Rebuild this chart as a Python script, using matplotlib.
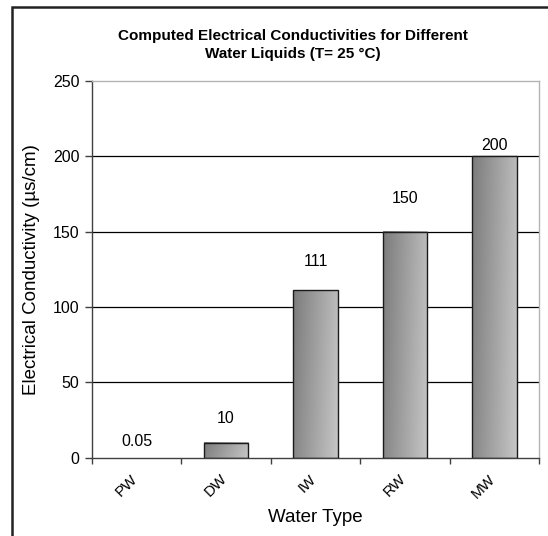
import numpy as np
import matplotlib
matplotlib.use("Agg")
import matplotlib.pyplot as plt
from matplotlib.colors import LinearSegmentedColormap
from matplotlib.patches import Rectangle
from matplotlib.transforms import ScaledTranslation

plt.rcParams['font.family'] = ['Liberation Sans', 'DejaVu Sans']

# Data
water_types = ['PW', 'DW', 'IW', 'RW', 'MW']
conductivity = [0.05, 10, 111, 150, 200]
value_labels = ['0.05', '10', '111', '150', '200']
label_y = [10.5, 26, 130, 172, 207]  # where the value labels sit

W, H = 548, 536
fig = plt.figure(figsize=(W / 100, H / 100), dpi=100)

# outer chart frame (runs off the right/bottom edge)
fig.patches.append(Rectangle((12 / W, -0.05), 1.2, 1 - 7 / H + 0.05,
                             transform=fig.transFigure, fill=False,
                             edgecolor='#222222', linewidth=1.8))

ax = fig.add_axes([92 / W, (H - 457.7) / H, (539 - 92) / W, (457.7 - 80.7) / H])

x = np.arange(len(water_types))

# gridlines
for g in [50, 100, 150, 200]:
    ax.axhline(g, color='black', linewidth=0.9, zorder=0.5)

# gradient bars
cmap = LinearSegmentedColormap.from_list('grey', ['#7c7c7c', '#c6c6c6'])
U, V = np.meshgrid(np.linspace(0, 1, 64), np.linspace(0, 1, 64))
bar_w = 0.5
bars = ax.bar(x, conductivity, width=bar_w, facecolor='none',
              edgecolor='#1a1a1a', linewidth=1.0, zorder=3)
for b in bars:
    x0, y0 = b.get_x(), b.get_y()
    w, h = b.get_width(), b.get_height()
    if h <= 0.5:
        b.set_linewidth(0)
        continue
    ax.imshow(0.85 * U + 0.15 * (1 - V), extent=[x0, x0 + w, y0, y0 + h],
              origin='lower', cmap=cmap, vmin=0, vmax=1, aspect='auto',
              interpolation='bilinear', zorder=2)
ax.set_xlim(-0.5, len(water_types) - 0.5)
ax.set_ylim(0, 250)
ax.set_aspect('auto')

for xi, ly, txt in zip(x, label_y, value_labels):
    ax.text(xi, ly, txt, ha='center', va='center', fontsize=11.5, color='black')

# axes styling
ax.spines['top'].set_color('#b4b4b4')
ax.spines['right'].set_color('#b4b4b4')
ax.spines['left'].set_color('#404040')
ax.spines['bottom'].set_color('#404040')
for s in ax.spines.values():
    s.set_linewidth(1.0)

ax.set_yticks([0, 50, 100, 150, 200, 250])
ax.tick_params(axis='y', direction='out', length=5, width=1, color='#404040',
               labelsize=11.5, pad=4)
ax.set_xticks(np.arange(-0.5, len(water_types), 1.0))
ax.set_xticklabels([])
ax.tick_params(axis='x', direction='out', length=4, width=1, color='#404040')
ax.set_xticks(x, minor=True)
ax.set_xticklabels(water_types, minor=True, rotation=45, ha='right',
                   rotation_mode='anchor', fontsize=11)
ax.tick_params(axis='x', which='minor', length=0, pad=10)
shift = ScaledTranslation(-6 / 100, 0, fig.dpi_scale_trans)
for lab in ax.get_xticklabels(minor=True):
    lab.set_transform(lab.get_transform() + shift)

ax.set_ylabel('Electrical Conductivity (\u00b5s/cm)', fontsize=13.5, labelpad=9)
ax.set_xlabel('Water Type', fontsize=13.5, labelpad=6)

fig.text(293 / W, 1 - 45 / H,
         'Computed Electrical Conductivities for Different\nWater Liquids (T= 25 \u00b0C)',
         ha='center', va='center', fontsize=11, fontweight='bold',
         linespacing=1.3)

fig.savefig('out.png', dpi=100, facecolor='white')
